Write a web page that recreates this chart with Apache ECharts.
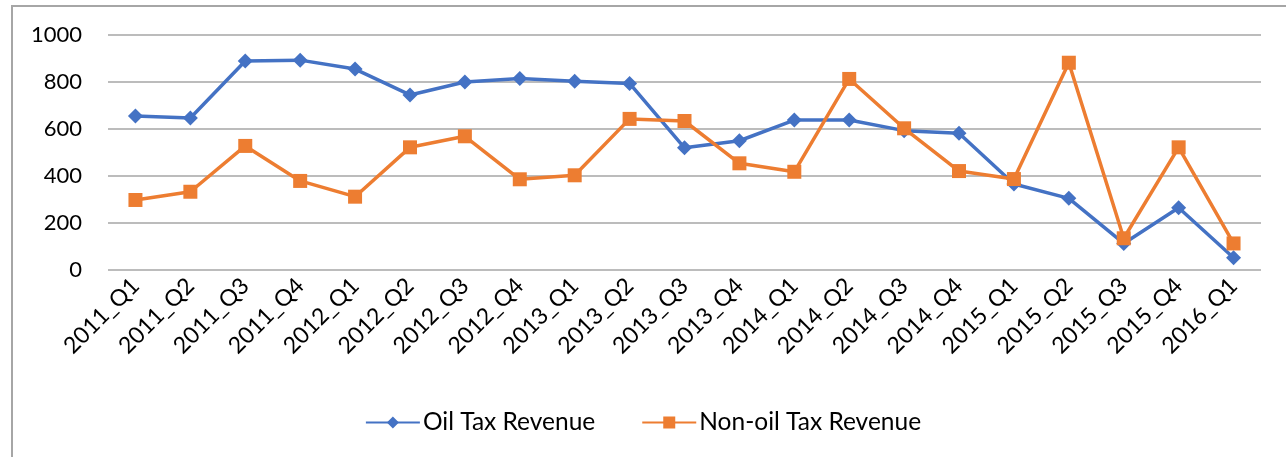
<!DOCTYPE html>
<html>
<head>
<meta charset="utf-8">
<script src="https://cdn.jsdelivr.net/npm/echarts@6/dist/echarts.min.js"></script>
<style>
  html, body { margin: 0; padding: 0; background: #fff; }
  #chart { width: 1286px; height: 457px; }
</style>
</head>
<body>
<div id="chart"></div>
<script>
const quarters = ["2011_Q1", "2011_Q2", "2011_Q3", "2011_Q4", "2012_Q1", "2012_Q2", "2012_Q3",
  "2012_Q4", "2013_Q1", "2013_Q2", "2013_Q3", "2013_Q4", "2014_Q1", "2014_Q2", "2014_Q3",
  "2014_Q4", "2015_Q1", "2015_Q2", "2015_Q3", "2015_Q4", "2016_Q1"];
const oilTax = [655, 647, 889, 893, 855, 745, 800, 815, 803, 794, 520, 550, 638, 638, 593, 582, 366, 305, 113, 265, 52];
const nonOilTax = [298, 333, 528, 379, 312, 522, 569, 386, 403, 643, 634, 454, 418, 813, 603, 421, 387, 882, 135, 522, 113];
const yTicks = [0, 200, 400, 600, 800, 1000];

const font = "Lato, 'Noto Sans', sans-serif";

let option = {
  animation: false,
  textStyle: { fontFamily: font },
  graphic: [
    {
      type: "rect",
      shape: { x: 12, y: 6, width: 1400, height: 600 },
      style: { fill: "none", stroke: "#a6a6a6", lineWidth: 2 },
      silent: true,
    },
  ],
  grid: {
    left: 108,
    right: 25,
    top: 35,
    bottom: 187,
  },
  legend: {
    top: 405,
    left: "center",
    itemWidth: 54,
    itemHeight: 15,
    itemGap: 46,
    textStyle: { color: "#000", fontSize: 24.5, fontFamily: font, padding: [0, 0, 0, -2] },
    data: ["Oil Tax Revenue", "Non-oil Tax Revenue"],
  },
  xAxis: {
    type: "category",
    data: quarters,
    boundaryGap: true,
    axisLine: { show: false },
    axisTick: { show: false },
    axisLabel: {
      rotate: 45,
      color: "#000",
      fontSize: 23,
      margin: 12,
      interval: 0,
    },
  },
  yAxis: {
    type: "value",
    min: yTicks[0],
    max: yTicks[yTicks.length - 1],
    interval: 200,
    axisLine: { show: false },
    axisTick: { show: false },
    axisLabel: {
      color: "#000",
      fontSize: 22,
      margin: 26,
      formatter: (v) => String(v),
    },
    splitLine: { lineStyle: { color: "#a6a6a6", width: 1.5 } },
  },
  series: [
    {
      name: "Oil Tax Revenue",
      type: "line",
      data: oilTax,
      color: "#4472C4",
      symbol: "diamond",
      symbolSize: 15,
      lineStyle: { width: 3.5 },
    },
    {
      name: "Non-oil Tax Revenue",
      type: "line",
      data: nonOilTax,
      color: "#ED7D31",
      symbol: "rect",
      symbolSize: 14,
      lineStyle: { width: 3.5 },
    },
  ],
};

let myChart = echarts.init(document.getElementById("chart"));
myChart.setOption(option, true);
window.onresize = myChart.resize;
</script>
</body>
</html>
